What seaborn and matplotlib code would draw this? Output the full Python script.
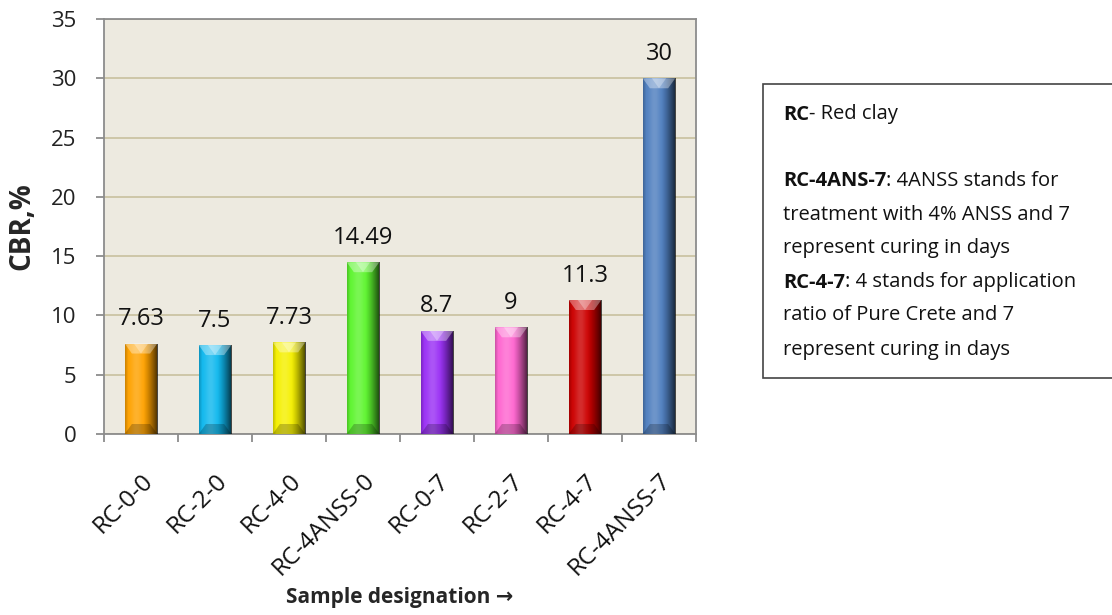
import numpy as np
import matplotlib
matplotlib.use("Agg")
import matplotlib.pyplot as plt
import seaborn as sns
from matplotlib.patches import Rectangle, Polygon

samples = ["RC-0-0", "RC-2-0", "RC-4-0", "RC-4ANSS-0",
           "RC-0-7", "RC-2-7", "RC-4-7", "RC-4ANSS-7"]
cbr = [7.63, 7.5, 7.73, 14.49, 8.7, 9, 11.3, 30]
value_labels = ["7.63", "7.5", "7.73", "14.49", "8.7", "9", "11.3", "30"]
bar_colors = ["#FFA200", "#0FB8EE", "#F5F000", "#5DF52E",
              "#9A30F5", "#FF66D0", "#CC0000", "#4F7FBF"]
y_ticks = [0, 5, 10, 15, 20, 25, 30, 35]

sns.set_style("white")
plt.rcParams["font.family"] = ["Open Sans", "DejaVu Sans"]

W, H = 1112, 615
fig = plt.figure(figsize=(W / 100, H / 100), dpi=100)
ax = fig.add_axes([104 / W, 1 - 434 / H, 592 / W, 415 / H])

sns.barplot(x=samples, y=cbr, hue=samples, palette=bar_colors, width=0.44,
            saturation=1, legend=False, ax=ax, zorder=3)

ax.set_facecolor("#EDEAE0")
ax.set_ylim(0, 35)
ax.set_xlim(-0.5, len(samples) - 0.5)
ax.set_yticks(y_ticks)
ax.set_yticklabels([str(t) for t in y_ticks], fontsize=16, color="#222222")
ax.yaxis.grid(True, color="#C8C09E", linewidth=1.2, zorder=0)
ax.set_axisbelow(True)
for s in ax.spines.values():
    s.set_color("#8C8C8C")
    s.set_linewidth(1.3)
    s.set_visible(True)

ax.tick_params(axis="y", which="major", direction="out", length=6,
               color="#8C8C8C", width=1.3, pad=14, left=True)
# category separators on the x axis
ax.set_xticks(np.arange(-0.5, len(samples) + 0.5, 1.0), minor=True)
ax.tick_params(axis="x", which="minor", direction="out", length=6,
               color="#8C8C8C", width=1.3, bottom=True)
ax.set_xticks(range(len(samples)))
ax.set_xticklabels(samples, rotation=45, ha="right", rotation_mode="anchor",
                   fontsize=17.5, color="#111111")
ax.tick_params(axis="x", which="major", length=0, pad=25)

ax.set_ylabel("CBR,%", fontsize=20, fontweight="bold")
ax.yaxis.set_label_coords((22 - 104) / 592, 0.5)
ax.yaxis.label.set_verticalalignment("center")
ax.set_xlabel("Sample designation \u2192", fontsize=15, fontweight="bold")
ax.xaxis.set_label_coords(0.5, (434 - 598) / 415)
ax.xaxis.label.set_verticalalignment("center")

# beveled shading on every bar
fig.canvas.draw()
px_per_y = ax.transData.transform((0, 1))[1] - ax.transData.transform((0, 0))[1]
bevel = 10 / px_per_y
xs = np.linspace(0, 1, 64)
dark = np.clip((xs - 0.55) / 0.45, 0, 1) ** 1.3 * 0.72 + np.clip((0.1 - xs) / 0.1, 0, 1) * 0.2
light = np.exp(-((xs - 0.35) / 0.18) ** 2) * 0.18
shade = np.zeros((2, 64, 4))
shade[..., 3] = dark + light
shade[..., 0:3] = (light / (dark + light + 1e-9))[None, :, None]

for bar, val, lab in zip(ax.patches, cbr, value_labels):
    x0, w = bar.get_x(), bar.get_width()
    h = bar.get_height()
    im = ax.imshow(shade, extent=(x0, x0 + w, 0, h), aspect="auto",
                   interpolation="bilinear", zorder=4)
    im.set_clip_path(bar)
    b = min(bevel, h / 2)
    inset = w * 0.22
    ax.add_patch(Polygon([(x0, h), (x0 + w, h), (x0 + w - inset, h - b),
                          (x0 + inset, h - b)], closed=True,
                         facecolor="white", alpha=0.35, linewidth=0, zorder=5))
    ax.add_patch(Polygon([(x0 + w / 2 - inset, h), (x0 + w / 2 + inset, h),
                          (x0 + w / 2, h - b)], closed=True,
                         facecolor="white", alpha=0.3, linewidth=0, zorder=5))
    ax.add_patch(Polygon([(x0, 0), (x0 + w, 0), (x0 + w - inset, b),
                          (x0 + inset, b)], closed=True,
                         facecolor="black", alpha=0.22, linewidth=0, zorder=5))
    bar.set_edgecolor("none")
    ax.annotate(lab, (x0 + w / 2, val), xytext=(0, 9), textcoords="offset points",
                ha="center", va="bottom", fontsize=17, color="#111111", zorder=6)

# explanatory note box
box_top, box_bottom, box_left = 84, 378, 763
fig.patches.append(Rectangle((box_left / W, 1 - box_bottom / H), 400 / W,
                             (box_bottom - box_top) / H,
                             transform=fig.transFigure, facecolor="white",
                             edgecolor="#444444", linewidth=1.2))

note_lines = [
    (112, "RC", "- Red clay"),
    (179, "RC-4ANS-7", ": 4ANSS stands for"),
    (213, "", "treatment with 4% ANSS and 7"),
    (246, "", "represent curing in days"),
    (280, "RC-4-7", ": 4 stands for application"),
    (313, "", "ratio of Pure Crete and 7"),
    (347, "", "represent curing in days"),
]
note_size = 14.5
renderer = fig.canvas.get_renderer()
for ypix, bold, plain in note_lines:
    yf = 1 - ypix / H
    x_start = 783 / W
    if bold:
        t = fig.text(x_start, yf, bold, fontsize=note_size, fontweight="bold",
                     va="center_baseline", ha="left", color="#111111")
        bb = t.get_window_extent(renderer=renderer)
        x_start = bb.x1 / W
    fig.text(x_start, yf, plain, fontsize=note_size, va="center_baseline",
             ha="left", color="#111111")

fig.savefig("out.png", dpi=100, facecolor="white")
